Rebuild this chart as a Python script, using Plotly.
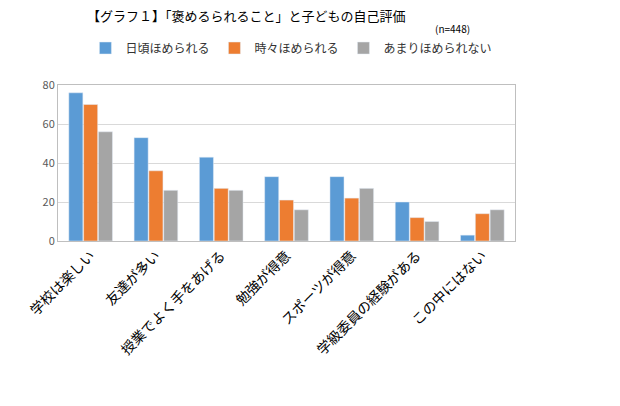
import plotly.graph_objects as go

categories = ["学校は楽しい", "友達が多い", "授業でよく手をあげる", "勉強が得意",
              "スポーツが得意", "学級委員の経験がある", "この中にはない"]
often = [76, 53, 43, 33, 33, 20, 3]
sometimes = [70, 36, 27, 21, 22, 12, 14]
rarely = [56, 26, 26, 16, 27, 10, 16]
y_ticks = [0, 20, 40, 60, 80]

fig = go.Figure()
for name, vals, col in [("日頃ほめられる", often, "#5b9bd5"),
                        ("時々ほめられる", sometimes, "#ed7d31"),
                        ("あまりほめられない", rarely, "#a5a5a5")]:
    fig.add_trace(go.Bar(x=categories, y=vals, name=name, marker_color=col))

fig.update_layout(
    width=620, height=406, barmode="group", bargap=0.32, bargroupgap=0.05,
    font=dict(family="Noto Sans CJK JP", size=12, color="#333"),
    plot_bgcolor="white", paper_bgcolor="white",
    margin=dict(l=50, r=113, t=77, b=173, autoexpand=False),
    legend=dict(orientation="h", x=0.06, y=1.33, xanchor="left", yanchor="top",
                font=dict(size=12), itemwidth=30, tracegroupgap=0),
    showlegend=True,
)
fig.update_xaxes(tickangle=-45, tickfont=dict(size=14, color="black"),
                 showline=True, linecolor="#bfbfbf", mirror=True)
fig.update_yaxes(range=[0, 80], tickvals=y_ticks, showgrid=True, gridcolor="#d9d9d9",
                 showline=True, linecolor="#bfbfbf", mirror=True,
                 tickfont=dict(size=11, color="#595959"))
fig.add_annotation(text="【グラフ１】「褒めるられること」と子どもの自己評価", xref="paper", yref="paper",
                   x=0.06, y=1.52, xanchor="left", showarrow=False, font=dict(size=13, color="black"))
fig.add_annotation(text="(n=448)", xref="paper", yref="paper",
                   x=0.82, y=1.42, xanchor="left", showarrow=False, font=dict(size=10, color="black"))
fig.write_html("out.html")
